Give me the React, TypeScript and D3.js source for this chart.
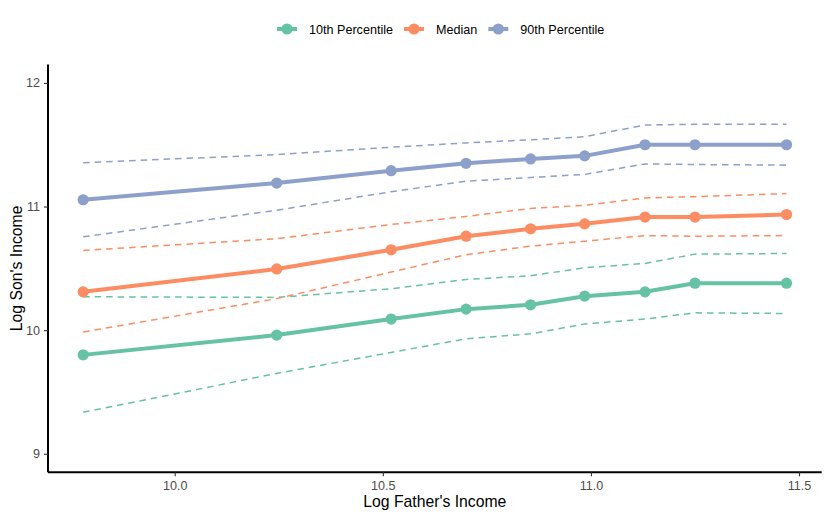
// Son's income percentiles against father's income, with dashed bands
// either side of each percentile curve.
import { useEffect, useRef } from "react";
import * as d3 from "d3";

const fatherIncome = [9.78, 10.245, 10.52, 10.7, 10.855, 10.985, 11.13, 11.25, 11.47];

const p10 = [9.8, 9.96, 10.09, 10.17, 10.205, 10.275, 10.31, 10.38, 10.38];
const p10Lo = [9.335, 9.65, 9.82, 9.93, 9.97, 10.05, 10.09, 10.14, 10.135];
const p10Hi = [10.27, 10.265, 10.335, 10.41, 10.44, 10.505, 10.54, 10.615, 10.62];

const p50 = [10.31, 10.495, 10.65, 10.76, 10.82, 10.86, 10.915, 10.915, 10.935];
const p50Lo = [9.985, 10.255, 10.47, 10.61, 10.68, 10.72, 10.765, 10.76, 10.765];
const p50Hi = [10.645, 10.74, 10.855, 10.92, 10.985, 11.01, 11.07, 11.08, 11.105];

const p90 = [11.055, 11.19, 11.29, 11.35, 11.385, 11.41, 11.5, 11.5, 11.5];
const p90Lo = [10.755, 10.97, 11.12, 11.205, 11.235, 11.26, 11.345, 11.34, 11.335];
const p90Hi = [11.355, 11.42, 11.48, 11.515, 11.54, 11.565, 11.66, 11.665, 11.665];

const seriesNames = ["10th Percentile", "Median", "90th Percentile"];
const colors = ["#66c2a5", "#fc8d62", "#8da0cb"];
const xTicks = [10.0, 10.5, 11.0, 11.5];
const yTicks = [9, 10, 11, 12];

const FONT = "'Liberation Sans', Arial, Helvetica, sans-serif";

export default function App() {
  const svgRef = useRef<SVGSVGElement | null>(null);

  useEffect(() => {
    document.body.style.margin = "0";
    const svg = d3.select(svgRef.current);
    svg.selectAll("*").remove();
    if (!svgRef.current) return;

    const W = 830;
    const H = 519;
    const left = 48;
    const right = 821.7;
    const top = 64.4;
    const bottom = 472.3;

    svg.attr("viewBox", `0 0 ${W} ${H}`).attr("font-family", FONT);

    const x = d3.scaleLinear().domain([9.6955, 11.5545]).range([left, right]);
    const y = d3.scaleLinear().domain([8.85, 12.15]).range([bottom, top]);

    const series = [
      { mid: p10, lo: p10Lo, hi: p10Hi },
      { mid: p50, lo: p50Lo, hi: p50Hi },
      { mid: p90, lo: p90Lo, hi: p90Hi },
    ];

    const line = d3
      .line<number>()
      .x((_, i) => x(fatherIncome[i]))
      .y((d) => y(d));

    const plot = svg.append("g");

    series.forEach((s, k) => {
      [s.lo, s.hi].forEach((band) => {
        plot
          .append("path")
          .attr("d", line(band))
          .attr("fill", "none")
          .attr("stroke", colors[k])
          .attr("stroke-width", 1.5)
          .attr("stroke-dasharray", "6.5 5");
      });
    });

    series.forEach((s, k) => {
      plot
        .append("path")
        .attr("d", line(s.mid))
        .attr("fill", "none")
        .attr("stroke", colors[k])
        .attr("stroke-width", 4)
        .attr("stroke-linejoin", "round");
      plot
        .append("g")
        .selectAll("circle")
        .data(s.mid)
        .join("circle")
        .attr("cx", (_, i) => x(fatherIncome[i]))
        .attr("cy", (d) => y(d))
        .attr("r", 5.6)
        .attr("fill", colors[k]);
    });

    // axes, theme_classic style
    const xAxis = svg
      .append("g")
      .attr("transform", `translate(0,${bottom})`)
      .call(
        d3
          .axisBottom(x)
          .tickValues(xTicks)
          .tickSize(4)
          .tickPadding(5)
          .tickFormat(d3.format(".1f"))
      );
    const yAxis = svg
      .append("g")
      .attr("transform", `translate(${left},0)`)
      .call(
        d3
          .axisLeft(y)
          .tickValues(yTicks)
          .tickSize(4)
          .tickPadding(4)
          .tickFormat(d3.format("d"))
      );

    [xAxis, yAxis].forEach((a) => {
      a.select(".domain").attr("stroke", "#000").attr("stroke-width", 2);
      a.selectAll(".tick line").attr("stroke", "#333").attr("stroke-width", 1.1);
      a.selectAll(".tick text")
        .attr("fill", "#4d4d4d")
        .attr("font-size", 12.6)
        .attr("font-family", FONT);
    });
    // draw the domain paths without end caps
    xAxis.select(".domain").attr("d", `M${left},0H${right}`);
    yAxis.select(".domain").attr("d", `M0,${top}V${bottom}`);

    svg
      .append("text")
      .attr("x", (left + right) / 2)
      .attr("y", 507)
      .attr("text-anchor", "middle")
      .attr("font-size", 15.75)
      .attr("fill", "#000")
      .text("Log Father's Income");

    svg
      .append("text")
      .attr("transform", `translate(21.5,${(top + bottom) / 2}) rotate(-90)`)
      .attr("text-anchor", "middle")
      .attr("font-size", 15.75)
      .attr("fill", "#000")
      .text("Log Son's Income");

    // legend on top
    const legend = svg.append("g").attr("transform", "translate(0,29)");
    let cx = 277;
    seriesNames.forEach((name, k) => {
      const item = legend.append("g");
      item
        .append("line")
        .attr("x1", cx)
        .attr("x2", cx + 20)
        .attr("stroke", colors[k])
        .attr("stroke-width", 4);
      item
        .append("circle")
        .attr("cx", cx + 10)
        .attr("r", 5.6)
        .attr("fill", colors[k]);
      const t = item
        .append("text")
        .attr("x", cx + 32)
        .attr("dy", "0.36em")
        .attr("font-size", 12.6)
        .attr("fill", "#000")
        .text(name);
      const tw = (t.node() as SVGTextElement).getComputedTextLength();
      cx += 32 + tw + 11;
    });
  }, []);

  return <svg ref={svgRef} width={830} height={519} style={{ display: "block" }} />;
}
